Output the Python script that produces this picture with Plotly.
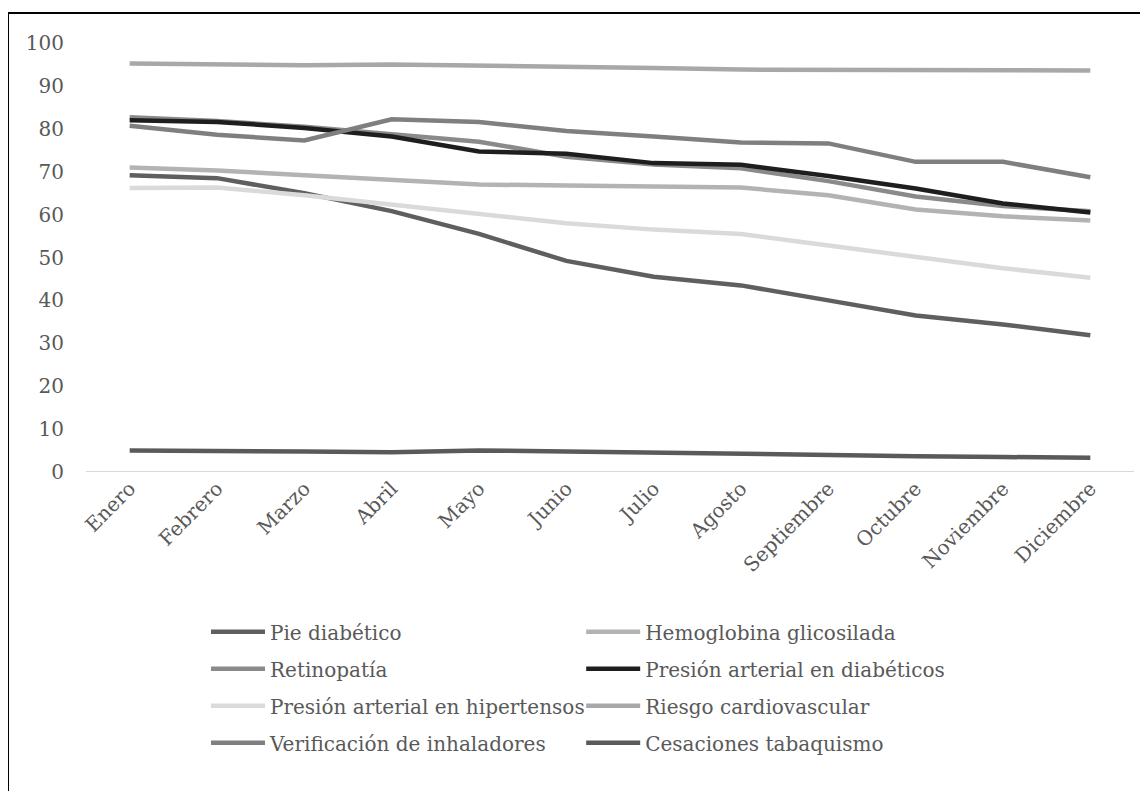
import plotly.graph_objects as go

months = ["Enero", "Febrero", "Marzo", "Abril", "Mayo", "Junio", "Julio",
          "Agosto", "Septiembre", "Octubre", "Noviembre", "Diciembre"]

pie_diabetico = [69.2, 68.5, 65.0, 60.8, 55.5, 49.2, 45.5, 43.5, 40.0, 36.5, 34.4, 31.9]
hemoglobina = [71.0, 70.3, 69.2, 68.0, 67.0, 66.8, 66.5, 66.3, 64.5, 61.2, 59.6, 58.6]
retinopatia = [82.7, 81.8, 80.5, 78.7, 77.0, 73.5, 71.7, 70.8, 67.8, 64.2, 62.0, 60.8]
presion_diab = [82.0, 81.6, 80.2, 78.2, 74.7, 74.2, 72.0, 71.6, 69.0, 66.1, 62.6, 60.5]
presion_hiper = [66.2, 66.3, 64.5, 62.4, 60.3, 58.0, 56.5, 55.5, 52.8, 50.2, 47.5, 45.3]
riesgo_cv = [95.2, 95.0, 94.8, 95.0, 94.8, 94.6, 94.2, 93.8, 93.8, 93.7, 93.7, 93.6]
verificacion = [80.7, 78.6, 77.3, 82.2, 81.6, 79.5, 78.2, 76.8, 76.6, 72.3, 72.3, 68.7]
cesaciones = [5.0, 5.0, 4.8, 4.6, 5.0, 4.8, 4.5, 4.2, 3.8, 3.7, 3.5, 3.3]

y_ticks = [0, 10, 20, 30, 40, 50, 60, 70, 80, 90, 100]

series = [
    ("Pie diabético", pie_diabetico, "#5f5f5f"),
    ("Hemoglobina glicosilada", hemoglobina, "#b3b3b3"),
    ("Retinopatía", retinopatia, "#8a8a8a"),
    ("Presión arterial en diabéticos", presion_diab, "#1e1e1e"),
    ("Presión arterial en hipertensos", presion_hiper, "#dadada"),
    ("Riesgo cardiovascular", riesgo_cv, "#a8a8a8"),
    ("Verificación de inhaladores", verificacion, "#7f7f7f"),
    ("Cesaciones tabaquismo", cesaciones, "#5a5a5a"),
]

FONT = "DejaVu Serif"
TXT = "#595959"

fig = go.Figure()
for i, (name, vals, col) in enumerate(series):
    fig.add_trace(go.Scatter(
        x=months, y=vals, name=name, mode="lines",
        line=dict(color=col, width=4.5),
        legend="legend" if i % 2 == 0 else "legend2",
        legendgroup="g%d" % i,
    ))

leg_common = dict(
    orientation="v", yanchor="top", xanchor="left",
    font=dict(family=FONT, size=20, color=TXT),
    tracegroupgap=8, itemwidth=54,
    bgcolor="rgba(0,0,0,0)",
)

fig.update_layout(
    width=1140, height=783,
    margin=dict(l=78, r=14, t=35, b=319),
    paper_bgcolor="white", plot_bgcolor="white",
    font=dict(family=FONT, size=20, color=TXT),
    showlegend=True,
    legend=dict(x=0.1145, y=-0.327, **leg_common),
    legend2=dict(x=0.4725, y=-0.327, **leg_common),
    xaxis=dict(
        type="category", categoryorder="array", categoryarray=months,
        range=[-0.5, 11.5],
        showgrid=False, zeroline=False, showline=False,
        tickangle=-45, ticks="",
        tickfont=dict(family=FONT, size=20, color=TXT),
    ),
    yaxis=dict(
        range=[0, 100], tickvals=y_ticks,
        showgrid=False, zeroline=False, showline=False,
        ticks="outside", ticklen=17, tickcolor="white",
        tickfont=dict(family=FONT, size=20, color=TXT),
    ),
    shapes=[
        dict(type="line", xref="paper", yref="y", x0=0, x1=1, y0=0, y1=0,
             line=dict(color="#d9d9d9", width=2), layer="below"),
        dict(type="rect", xref="paper", yref="paper",
             x0=-78 / 1048, x1=1.2, y0=-1.2, y1=(464 - 5) / 429,
             line=dict(color="black", width=2), layer="below"),
    ],
)

fig.write_html("out.html")
